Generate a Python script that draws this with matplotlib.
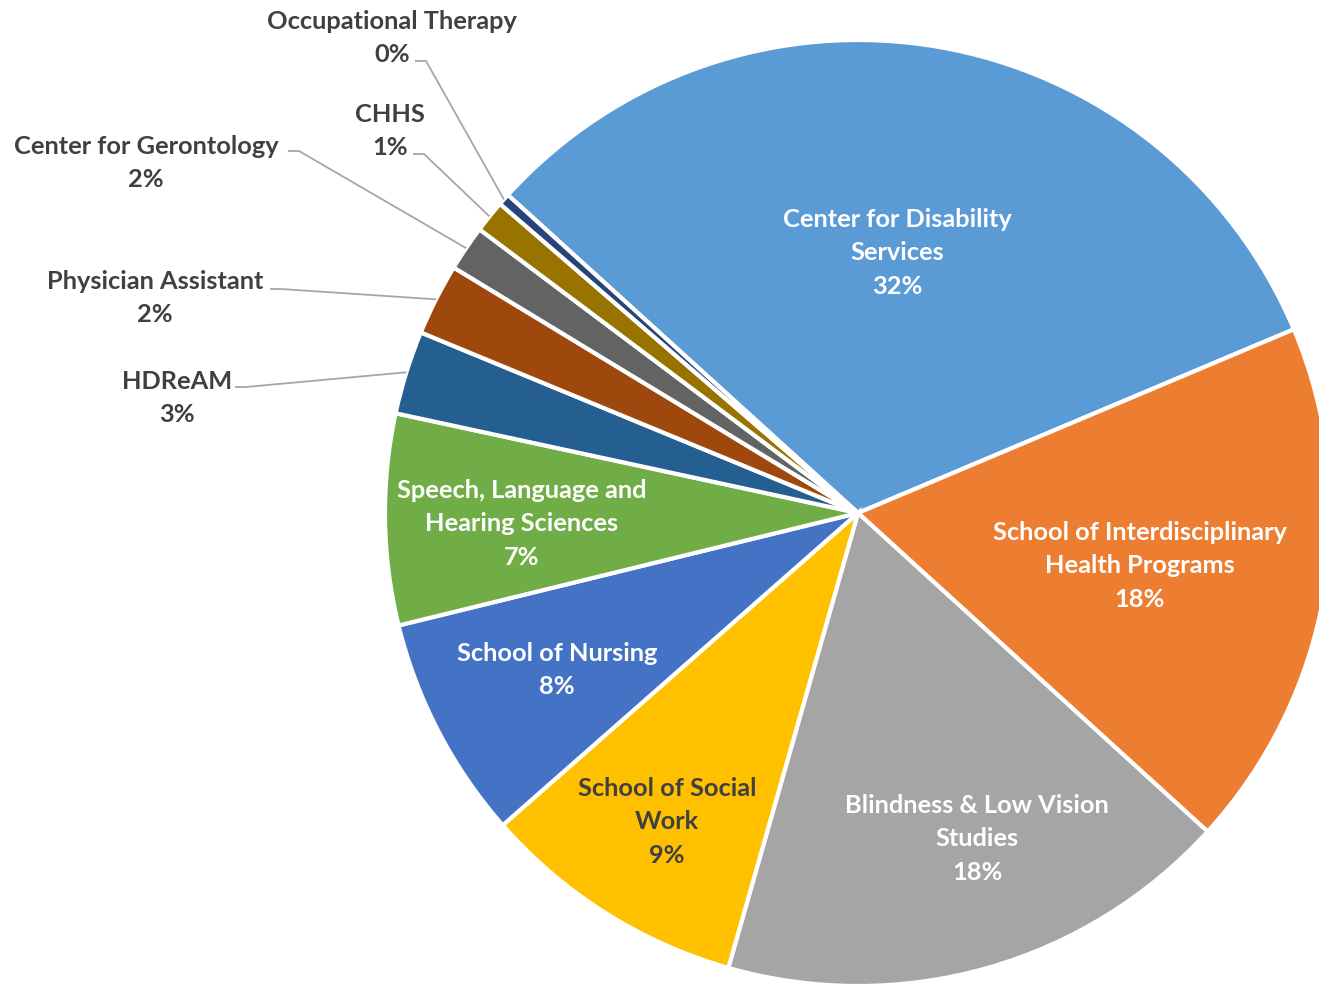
import matplotlib.pyplot as plt
import numpy as np

plt.rcParams['font.family'] = ['Lato', 'DejaVu Sans']

# data, in clockwise order
categories = ['Center for Disability Services', 'School of Interdisciplinary Health Programs',
              'Blindness & Low Vision Studies', 'School of Social Work', 'School of Nursing',
              'Speech, Language and Hearing Sciences', 'HDReAM', 'Physician Assistant',
              'Center for Gerontology', 'CHHS', 'Occupational Therapy']
shares = [31.9, 18.1, 17.65, 9.1, 7.65, 7.2, 2.85, 2.45, 1.55, 1.1, 0.4]
colors = ['#5B9BD5', '#ED7D31', '#A5A5A5', '#FFC000', '#4472C4', '#70AD47',
          '#255E91', '#9E480E', '#636363', '#997300', '#264478']

# how each label is wrapped on the chart
wrapped = ['Center for Disability\nServices', 'School of Interdisciplinary\nHealth Programs',
           'Blindness & Low Vision\nStudies', 'School of Social\nWork', 'School of Nursing',
           'Speech, Language and\nHearing Sciences', 'HDReAM', 'Physician Assistant',
           'Center for Gerontology', 'CHHS', 'Occupational Therapy']

W, H = 1319, 987
fig = plt.figure(figsize=(W / 100, H / 100), dpi=100)
ax = fig.add_axes([0, 0, 1, 1])

cx, cy, R = 858, H - 514, 473
wedges, _ = ax.pie(shares, colors=colors, startangle=137.75, counterclock=False,
                   center=(cx, cy), radius=R,
                   wedgeprops=dict(edgecolor='white', linewidth=3))
ax.set_xlim(0, W)
ax.set_ylim(0, H)
ax.set_aspect('equal')
ax.axis('off')


def py(y):
    return H - y


pct = ['{:.0f}%'.format(s) for s in shares]
dark = '#404040'
fs = 18.3
ls = 1.56

# label block centres (pixel coords, y down) and text colour
inside = {
    0: (897, 253, 'white'),
    1: (1140, 566, 'white'),
    2: (977, 839, 'white'),
    3: (667, 822, dark),
    4: (557, 670, 'white'),
    5: (522, 524, 'white'),
}
for i, (x, y, c) in inside.items():
    ax.text(x, py(y), wrapped[i] + '\n' + pct[i], ha='center', va='center',
            color=c, fontsize=fs, fontweight='bold', linespacing=ls)

# outside labels: block centre, start of leader line
outside = {
    6: (177, 398, (235, 388)),
    7: (155, 298, (270, 290)),
    8: (146, 163, (288, 152)),
    9: (390, 131, (413, 155)),
    10: (392, 38, (415, 62)),
}
for i, (x, y, (lx, ly)) in outside.items():
    ax.text(x, py(y), wrapped[i] + '\n' + pct[i], ha='center', va='center',
            color=dark, fontsize=fs, fontweight='bold', linespacing=ls)
    w = wedges[i]
    mid = np.deg2rad((w.theta1 + w.theta2) / 2)
    ex, ey = cx + R * np.cos(mid), cy + R * np.sin(mid)
    ax.plot([lx, lx + 11, ex], [py(ly), py(ly), ey], color='#A6A6A6', lw=1.3,
            solid_capstyle='butt')

fig.savefig('out.png', dpi=100)
